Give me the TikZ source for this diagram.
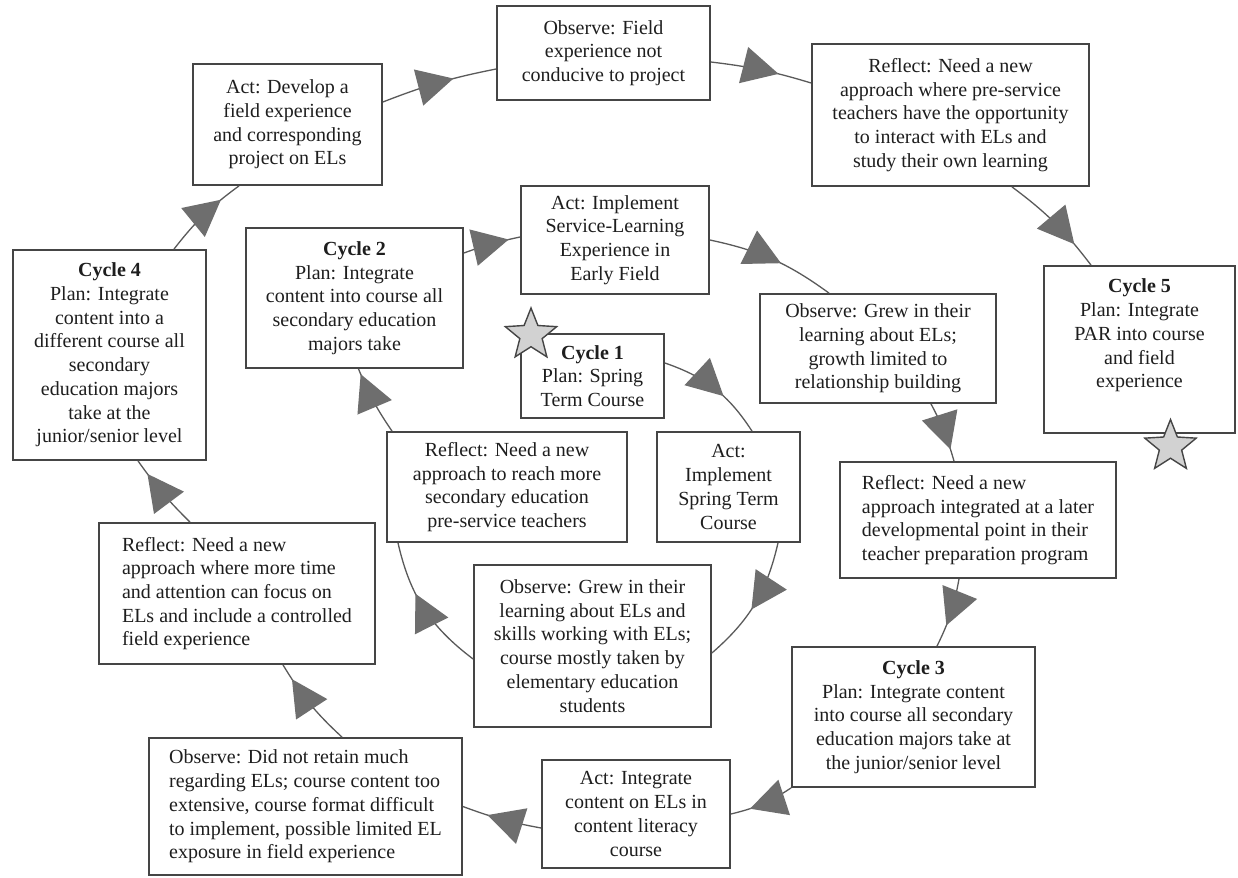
\documentclass[tikz,border=0pt]{standalone}
\usepackage{fontspec}
\setmainfont{Liberation Serif}
\usetikzlibrary{arrows.meta,decorations.markings,shapes.geometric}
\definecolor{boxc}{HTML}{454545}
\definecolor{linec}{HTML}{5A5A5A}
\definecolor{arrc}{HTML}{6E6E6E}
\definecolor{starc}{HTML}{D2D2D2}
\definecolor{txtc}{HTML}{1E1E1E}
\tikzset{
  box/.style={draw=boxc, line width=0.9pt, fill=white, inner sep=0pt, align=center, text=txtc, font=\fontsize{10}{11.85}\selectfont},
  lbox/.style={box, align=left},
  plaintext/.style={inner sep=0pt, align=center, text=txtc, font=\fontsize{10}{11.85}\selectfont},
  conn/.style={draw=linec, line width=0.65pt},
  arrat/.style={postaction={decorate}, decoration={markings, mark=at position #1 with {\arrow{Triangle[length=18pt,width=18.5pt,color=arrc,fill=arrc]}}}},
  starnode/.style={star, star points=5, star point ratio=2.3, draw=boxc, fill=starc, line width=0.7pt, minimum size=27pt, inner sep=0pt},
}
\begin{document}
\begin{tikzpicture}[x=0.5pt,y=0.5pt]
\fill[white] (0,0) rectangle (1238,-878);
\useasboundingbox (0,0) rectangle (1238,-878);

% boxes
\node[box, minimum width=106.5pt, minimum height=47pt] (obsf) at (603.5,-53) {Observe: Field\\experience not\\conducive to project};
\node[box, minimum width=94.5pt, minimum height=60.5pt] (actd) at (287.5,-124.5) {Act: Develop a\\field experience\\and corresponding\\project on ELs};
\node[box, minimum width=138.5pt, minimum height=71pt] (refn) at (950.5,-115) {Reflect: Need a new\\approach where pre-service\\teachers have the opportunity\\to interact with ELs and\\study their own learning};
\node[box, minimum width=108.5pt, minimum height=70pt] (cy2) at (354.5,-298) {\textbf{Cycle 2}\\Plan: Integrate\\content into course all\\secondary education\\majors take};
\node[box, minimum width=94pt, minimum height=54pt] (acti) at (615,-240) {Act: Implement\\Service-Learning\\Experience in\\Early Field};
\node[box, minimum width=71.5pt, minimum height=42pt] (cy1) at (592.5,-376) {\textbf{Cycle 1}\\Plan: Spring\\Term Course};
\node[box, minimum width=118pt, minimum height=54.5pt] (obsg) at (878,-348.5) {Observe: Grew in their\\learning about ELs;\\growth limited to\\relationship building};
\node[box, minimum width=95.5pt, minimum height=83.5pt] (cy5) at (1139.5,-349.5) {};
\node[plaintext] (cy5t) at (1139.5,-335.5) {\textbf{Cycle 5}\\Plan: Integrate\\PAR into course\\and field\\experience};
\node[box, minimum width=96.5pt, minimum height=105pt] (cy4) at (109.5,-355) {\textbf{Cycle 4}\\Plan: Integrate\\content into a\\different course all\\secondary\\education majors\\take at the\\junior/senior level};
\node[box, minimum width=120pt, minimum height=55pt] (ref1) at (507,-487) {Reflect: Need a new\\approach to reach more\\secondary education\\pre-service teachers};
\node[box, minimum width=71.5pt, minimum height=55pt] (acts) at (728.5,-487) {Act:\\Implement\\Spring Term\\Course};
\node[lbox, minimum width=138pt, minimum height=58pt] (ref2) at (978,-520) {Reflect: Need a new\\approach integrated at a later\\developmental point in their\\teacher preparation program};
\node[lbox, minimum width=138pt, minimum height=70.5pt] (ref3) at (237,-593.5) {Reflect: Need a new\\approach where more time\\and attention can focus on\\ELs and include a controlled\\field experience};
\node[box, minimum width=118.5pt, minimum height=81pt] (obs1) at (592.5,-646) {Observe: Grew in their\\learning about ELs and\\skills working with ELs;\\course mostly taken by\\elementary education\\students};
\node[box, minimum width=121.5pt, minimum height=70pt] (cy3) at (913.5,-717) {\textbf{Cycle 3}\\Plan: Integrate content\\into course all secondary\\education majors take at\\the junior/senior level};
\node[box, minimum width=94pt, minimum height=54pt] (actl) at (636,-814) {Act: Integrate\\content on ELs in\\content literacy\\course};
\node[lbox, minimum width=156.5pt, minimum height=68.5pt] (obsd) at (305.5,-806.5) {Observe: Did not retain much\\regarding ELs; course content too\\extensive, course format difficult\\to implement, possible limited EL\\exposure in field experience};

% connectors
\draw[conn, arrat=0.6] ([yshift=6.5pt]cy1.east) to[bend left=19] ([xshift=11.75pt]acts.north);
\draw[conn, arrat=0.55] ([xshift=24.75pt]acts.south) to[bend left=18] ([yshift=-3.5pt]obs1.east);
\draw[conn, arrat=0.62] ([yshift=-6.5pt]obs1.west) to[bend left=20] ([xshift=-54.5pt]ref1.south);
\draw[conn, arrat=0.92] ([xshift=-57.5pt]ref1.north) to[bend left=6] ([xshift=2pt]cy2.south);
\draw[conn, arrat=0.8] ([yshift=22.5pt]cy2.east) to[bend left=4] ([yshift=1.5pt]acti.west);
\draw[conn, arrat=0.57] (acti.east) to[bend left=12] ([xshift=-24.5pt]obsg.north);
\draw[conn, arrat=0.8] ([xshift=26.5pt]obsg.south) to[bend left=6] ([xshift=-12pt]ref2.north);
\draw[conn, arrat=0.68] ([xshift=-9.5pt]ref2.south) to[bend left=8] ([xshift=11.75pt]cy3.north);
\draw[conn, arrat=0.7] (cy3.south west) to[bend left=10] (actl.east);
\draw[conn, arrat=0.68] ([yshift=-7pt]actl.west) to[bend left=5] (obsd.east);
\draw[conn, arrat=0.82] ([xshift=18.25pt]obsd.north) to[bend left=8] ([xshift=23pt]ref3.south);
\draw[conn, arrat=0.8] ([xshift=-23.5pt]ref3.north) to[bend left=5] ([xshift=14.25pt]cy4.south);
\draw[conn, arrat=0.75] ([xshift=32.25pt]cy4.north) to[bend left=8] ([xshift=-24.25pt]actd.south);
\draw[conn, arrat=0.63] ([yshift=11.25pt]actd.east) to[bend left=5] ([yshift=-8pt]obsf.west);
\draw[conn, arrat=0.67] ([yshift=-4.5pt]obsf.east) to[bend left=5] ([yshift=16pt]refn.west);
\draw[conn, arrat=0.76] ([xshift=30.75pt]refn.south) to[bend left=8] ([xshift=-24.25pt]cy5.north);

% stars
\node[starnode] (st1) at (531,-335) {};
\node[starnode] (st2) at (1170.5,-446.5) {};
\end{tikzpicture}
\end{document}
